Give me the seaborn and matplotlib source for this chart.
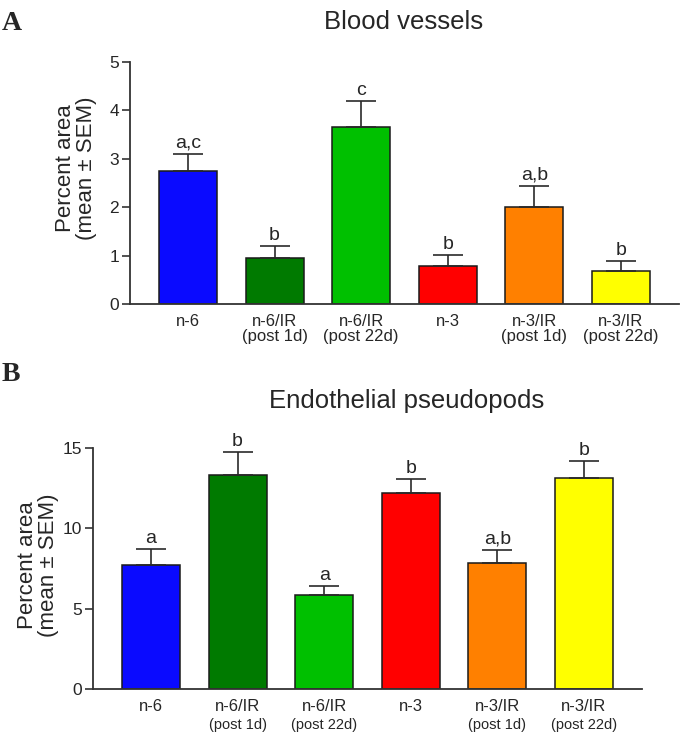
import numpy as np
import pandas as pd
import matplotlib
matplotlib.use("Agg")
import matplotlib.pyplot as plt
import seaborn as sns

# Group names (first line) and time point (second line)
groups = ["n-6", "n-6/IR", "n-6/IR", "n-3", "n-3/IR", "n-3/IR"]
timepoints = ["", "(post 1d)", "(post 22d)", "", "(post 1d)", "(post 22d)"]
bar_colors = ["#0A0AFF", "#007A00", "#00C000", "#FF0000", "#FF8000", "#FFFF00"]

# Panel A: blood vessels (percent area, mean and SEM)
vessels_mean = [2.74, 0.96, 3.65, 0.785, 2.00, 0.69]
vessels_sem = [0.36, 0.24, 0.55, 0.225, 0.44, 0.20]
vessels_sig = ["a,c", "b", "c", "b", "a,b", "b"]

# Panel B: endothelial pseudopods
pseudo_mean = [7.74, 13.35, 5.84, 12.19, 7.85, 13.15]
pseudo_sem = [0.96, 1.37, 0.58, 0.89, 0.81, 1.06]
pseudo_sig = ["a", "b", "a", "b", "a,b", "b"]

sns.set_style("ticks")
plt.rcParams["font.family"] = ["Liberation Sans", "DejaVu Sans"]

keys = [g + ("\n" + t if t else "") for g, t in zip(groups, timepoints)]
pal = dict(zip(keys, bar_colors))

fig = plt.figure(figsize=(6.85, 7.4), dpi=100)
axA = fig.add_axes([130 / 685, 1 - 304 / 740, 549 / 685, 242 / 740])
axB = fig.add_axes([93 / 685, 1 - 689 / 740, 549 / 685, 241 / 740])


def draw_panel(ax, means, sems, sig, ymax, ystep):
    df = pd.DataFrame({"key": keys, "mean": means})
    sns.barplot(data=df, x="key", y="mean", hue="key", palette=pal, order=keys,
                hue_order=keys, legend=False, width=0.67, edgecolor="#1a1a1a",
                linewidth=1.1, saturation=1, ax=ax)
    xs = np.arange(len(keys))
    ax.errorbar(xs, means, yerr=[np.zeros(len(sems)), sems], fmt="none",
                ecolor="#2a2a2a", elinewidth=1.2, capsize=11, capthick=1.2, zorder=1)
    for x, m, s, lab in zip(xs, means, sems, sig):
        ax.annotate(lab, (x, m + s), xytext=(0, 1.5), textcoords="offset points",
                    ha="center", va="bottom", fontsize=14)
    ax.set_xlim(-0.67, len(keys) - 1 + 0.67)
    ax.set_ylim(0, ymax)
    ax.set_yticks(np.arange(0, ymax + 0.1, ystep))
    ax.set_xlabel("")
    ax.set_ylabel("")
    sns.despine(ax=ax)
    for sp in ["left", "bottom"]:
        ax.spines[sp].set_linewidth(1.3)
        ax.spines[sp].set_color("#333333")
    ax.tick_params(axis="y", length=6, width=1.2, color="#333333", labelsize=12.5, pad=2)
    ax.tick_params(axis="x", length=0, labelsize=12, pad=7)


draw_panel(axA, vessels_mean, vessels_sem, vessels_sig, 5, 1)
axA.set_xticks(range(len(keys)))
axA.set_xticklabels(keys, linespacing=1.05)

draw_panel(axB, pseudo_mean, pseudo_sem, pseudo_sig, 15, 5)
axB.set_xticks(range(len(keys)))
axB.set_xticklabels(groups)
for x, t in enumerate(timepoints):
    if t:
        axB.annotate(t, (x, 0), xycoords=("data", "axes fraction"), xytext=(0, -21),
                     textcoords="offset points", ha="center", va="top", fontsize=10.5)

# titles
fig.text(404 / 685, 1 - 29 / 740, "Blood vessels", ha="center", va="baseline", fontsize=18.5)
fig.text(407 / 685, 1 - 408 / 740, "Endothelial pseudopods", ha="center", va="baseline",
         fontsize=18.5)

# y labels
fig.text(76 / 685, 1 - 168 / 740, "Percent area\n(mean \u00b1 SEM)", rotation=90,
         ha="center", va="center", fontsize=16, linespacing=1.0)
fig.text(38 / 685, 1 - 565 / 740, "Percent area\n(mean \u00b1 SEM)", rotation=90,
         ha="center", va="center", fontsize=16, linespacing=1.0)

# panel letters
fig.text(2 / 685, 1 - 30 / 740, "A", fontsize=20, fontweight="bold",
         family=["Liberation Serif", "DejaVu Serif"], va="baseline")
fig.text(2 / 685, 1 - 381 / 740, "B", fontsize=20, fontweight="bold",
         family=["Liberation Serif", "DejaVu Serif"], va="baseline")

fig.savefig("out.png", dpi=100)
